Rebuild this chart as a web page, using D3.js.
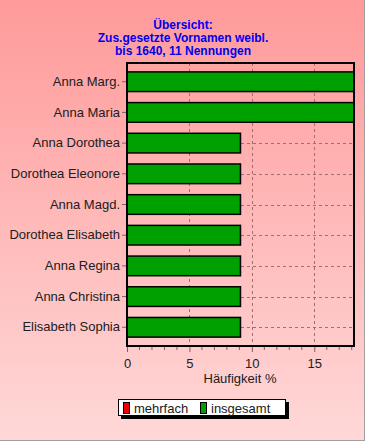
<!DOCTYPE html>
<html><head><meta charset="utf-8">
<script src="https://cdn.jsdelivr.net/npm/d3@7"></script>
<style>html,body{margin:0;padding:0;overflow:hidden;background:#fff}</style>
</head><body>
<script>
const categories = ["Anna Marg.","Anna Maria","Anna Dorothea","Dorothea Eleonore","Anna Magd.","Dorothea Elisabeth","Anna Regina","Anna Christina","Elisabeth Sophia"];
const insgesamt = [18.18,18.18,9.09,9.09,9.09,9.09,9.09,9.09,9.09];
const mehrfach = [0,0,0,0,0,0,0,0,0];
const xTicks = [0,5,10,15];
const titleLines = ["Übersicht:","Zus.gesetzte Vornamen weibl.","bis 1640, 11 Nennungen"];
const legendItems = [{label:"mehrfach",color:"#ee0000"},{label:"insgesamt",color:"#00a000"}];
const xLabel = "Häufigkeit %";

const W=365,H=441;
const svg=d3.select("body").append("svg").attr("width",W).attr("height",H);
const defs=svg.append("defs");
const g=defs.append("linearGradient").attr("id","bg").attr("x1",0).attr("y1",0).attr("x2",0).attr("y2",1);
g.append("stop").attr("offset",0).attr("stop-color","#ff9a9a");
g.append("stop").attr("offset",1).attr("stop-color","#ffd8d8");
svg.append("rect").attr("width",W).attr("height",H).attr("fill","url(#bg)");
svg.append("line").attr("x1",W-0.5).attr("x2",W-0.5).attr("y1",0).attr("y2",H).attr("stroke","#a0a0a0");
svg.append("line").attr("x1",0).attr("x2",W).attr("y1",H-0.5).attr("y2",H-0.5).attr("stroke","#a0a0a0");

const L=127,R=354,T=63,B=346;
const x=d3.scaleLinear().domain([0,200/11]).range([L,R]);
const y=d3.scaleBand().domain(categories).range([T,B]).paddingInner(0.36).paddingOuter(0.29);

// title
svg.append("g").selectAll("text").data(titleLines).join("text")
  .attr("x",183).attr("y",(d,i)=>29+i*13).attr("text-anchor","middle")
  .attr("font-family","Liberation Sans, Arial, sans-serif").attr("font-weight","bold").attr("font-size","12px")
  .attr("fill","#0000ee").text(d=>d);

// grid
const grid=svg.append("g").attr("stroke","#a07070").attr("stroke-dasharray","3,3").attr("stroke-width",1);
grid.selectAll("line.v").data(xTicks.filter(d=>d>0)).join("line").attr("class","v")
  .attr("x1",d=>Math.round(x(d))+0.5).attr("x2",d=>Math.round(x(d))+0.5).attr("y1",T).attr("y2",B);
grid.selectAll("line.h").data(categories).join("line").attr("class","h")
  .attr("y1",d=>Math.round(y(d)+y.bandwidth()/2)+0.5).attr("y2",d=>Math.round(y(d)+y.bandwidth()/2)+0.5).attr("x1",L).attr("x2",R);

// bars
svg.append("g").selectAll("rect").data(categories).join("rect")
  .attr("x",x(0)).attr("y",d=>y(d)).attr("width",(d,i)=>x(insgesamt[i])-x(0)).attr("height",y.bandwidth())
  .attr("fill","#00a000").attr("stroke","#000").attr("stroke-width",1.5);

// frame
svg.append("rect").attr("x",L).attr("y",T).attr("width",R-L).attr("height",B-T)
  .attr("fill","none").attr("stroke","#000").attr("stroke-width",2);

// y axis
const yAx=svg.append("g").attr("transform",`translate(${L-1},0)`)
  .call(d3.axisLeft(y).tickSize(4).tickPadding(2));
yAx.select(".domain").remove();
yAx.selectAll(".tick line").attr("stroke","#806060");
yAx.selectAll("text").attr("font-family","Liberation Sans, Arial, sans-serif").attr("font-size","13px").attr("fill","#202020");

// x axis
const xAx=svg.append("g").attr("transform",`translate(0,${B+1})`)
  .call(d3.axisBottom(x).tickValues(xTicks).tickSize(5).tickPadding(7));
xAx.select(".domain").remove();
xAx.selectAll(".tick line").attr("stroke","#806060");
xAx.selectAll("text").attr("font-family","Liberation Sans, Arial, sans-serif").attr("font-size","13px").attr("fill","#202020");
const minor=d3.range(1,19).filter(d=>d%5!==0);
svg.append("g").selectAll("line").data(minor).join("line")
  .attr("x1",d=>x(d)).attr("x2",d=>x(d)).attr("y1",B+1).attr("y2",B+4).attr("stroke","#806060");
svg.append("text").attr("x",240).attr("y",383).attr("text-anchor","middle")
  .attr("font-family","Liberation Sans, Arial, sans-serif").attr("font-size","13px").attr("fill","#202020").text(xLabel);

// legend
const lg=svg.append("g");
lg.append("rect").attr("x",121).attr("y",402).attr("width",168).attr("height",17).attr("fill","#000");
lg.append("rect").attr("x",118.5).attr("y",399.5).attr("width",167).attr("height",16).attr("fill","#fff").attr("stroke","#000");
const lx=[123,200];
legendItems.forEach((d,i)=>{
  lg.append("rect").attr("x",lx[i]+0.5).attr("y",402.5).attr("width",6).attr("height",11).attr("fill",d.color).attr("stroke","#000");
  lg.append("text").attr("x",lx[i]+11).attr("y",412.5).attr("font-family","Liberation Sans, Arial, sans-serif")
    .attr("font-size","13px").attr("fill","#202020").text(d.label);
});
</script>
</body></html>
